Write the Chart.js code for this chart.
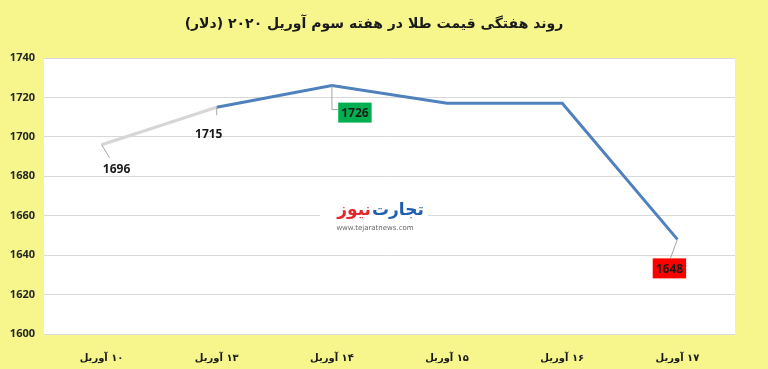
<!DOCTYPE html>
<html>
<head>
<meta charset="utf-8">
<script src="https://cdn.jsdelivr.net/npm/chart.js@4.4.0/dist/chart.umd.min.js"></script>
<style>
  html, body { margin: 0; padding: 0; background: #f6f68d; }
  #wrap { width: 768px; height: 369px; }
</style>
</head>
<body>
<div id="wrap"><canvas id="chart" dir="rtl"></canvas></div>
<script>
// weekly gold price, third week of April 2020 (USD)
const dates = ['۱۰ آوریل', '۱۳ آوریل', '۱۴ آوریل', '۱۵ آوریل', '۱۶ آوریل', '۱۷ آوریل'];
const prices = [1696, 1715, 1726, 1717, 1717, 1648];
const yTicks = [1600, 1620, 1640, 1660, 1680, 1700, 1720, 1740];
const labelled = [0, 1, 2, 5];

const titleText = 'روند هفتگی قیمت طلا در هفته سوم آوریل ۲۰۲۰ (دلار)';

// white plot area, title, watermark and value labels
const decor = {
  id: 'decor',
  beforeDraw(chart) {
    const { ctx, chartArea: a } = chart;
    ctx.save();
    ctx.fillStyle = '#ffffff';
    ctx.fillRect(a.left, a.top, a.right - a.left, a.bottom - a.top);
    ctx.restore();
  },
  beforeDatasetsDraw(chart) {
    const ctx = chart.ctx;
    // watermark
    ctx.save();
    ctx.fillStyle = '#ffffff';
    ctx.fillRect(320, 198, 108, 36);
    ctx.textBaseline = 'middle';
    ctx.font = 'bold 17px "DejaVu Sans"';
    ctx.direction = 'ltr';
    ctx.textAlign = 'left';
    ctx.fillStyle = '#1f5fae';
    ctx.fillText('تجارت', 372, 211);
    ctx.textAlign = 'right';
    ctx.fillStyle = '#e4262b';
    ctx.fillText('نیوز', 371, 211);
    ctx.font = '7px "DejaVu Sans"';
    ctx.textAlign = 'center';
    ctx.fillStyle = '#666666';
    ctx.fillText('www.tejaratnews.com', 375, 228);
    ctx.restore();
  },
  afterDatasetsDraw(chart) {
    const { ctx, scales: { x, y } } = chart;
    ctx.save();
    // title
    ctx.direction = 'rtl';
    ctx.textAlign = 'center';
    ctx.textBaseline = 'middle';
    ctx.font = 'bold 14px "DejaVu Sans"';
    ctx.fillStyle = '#1a1a1a';
    ctx.fillText(titleText, 374, 24);
    ctx.direction = 'ltr';

    const styles = {
      0: { dx: 15, dy: 24, box: null, lead: [[8, 13]] },
      1: { dx: -8, dy: 26, box: null, lead: [[0, 8]] },
      2: { dx: 23, dy: 27, box: '#00b050', lead: [[0, 24], [6, 24]] },
      5: { dx: -8, dy: 29, box: '#ff0000', lead: [[-7, 19]] }
    };
    labelled.forEach(i => {
      const px = x.getPixelForValue(i);
      const py = y.getPixelForValue(prices[i]);
      const s = styles[i];
      ctx.strokeStyle = '#a6a6a6';
      ctx.lineWidth = 1;
      ctx.beginPath();
      ctx.moveTo(px, py);
      s.lead.forEach(p => ctx.lineTo(px + p[0], py + p[1]));
      ctx.stroke();
      const cx = px + s.dx, cy = py + s.dy;
      ctx.font = 'bold 12px "Open Sans", "DejaVu Sans"';
      const w = ctx.measureText(String(prices[i])).width;
      if (s.box) {
        ctx.fillStyle = s.box;
        ctx.fillRect(cx - w / 2 - 3, cy - 10, w + 6, 20);
      }
      ctx.fillStyle = '#1a1a1a';
      ctx.textAlign = 'center';
      ctx.textBaseline = 'middle';
      ctx.fillText(String(prices[i]), cx, cy + 1);
    });
    ctx.restore();
  }
};

new Chart(document.getElementById('chart').getContext('2d'), {
  type: 'line',
  data: {
    labels: dates,
    datasets: [{
      data: prices,
      borderWidth: 3,
      borderColor: '#4f81bd',
      segment: {
        borderColor: c => c.p0DataIndex === 0 ? '#d6d6d6' : '#4f81bd'
      },
      pointRadius: 0,
      tension: 0,
      fill: false
    }]
  },
  options: {
    responsive: true,
    maintainAspectRatio: false,
    animation: false,
    layout: { padding: { top: 58, right: 33, bottom: 0, left: 0 } },
    plugins: { legend: { display: false }, tooltip: { enabled: false } },
    scales: {
      x: {
        offset: true,
        afterFit: s => { s.height = 35; },
        grid: { display: false },
        border: { display: false },
        ticks: {
          padding: 10,
          color: '#1a1a1a',
          font: { family: 'DejaVu Sans', weight: 'bold', size: 10 }
        }
      },
      y: {
        min: 1600,
        max: 1740,
        afterFit: s => { s.width = 44; },
        afterBuildTicks: s => { s.ticks = yTicks.map(v => ({ value: v })); },
        grid: { color: '#d9d9d9', drawTicks: false },
        border: { display: false },
        ticks: {
          padding: 9,
          color: '#262626',
          callback: v => String(v),
          font: { family: 'Open Sans', weight: 'bold', size: 11 }
        }
      }
    }
  },
  plugins: [decor]
});
</script>
</body>
</html>
